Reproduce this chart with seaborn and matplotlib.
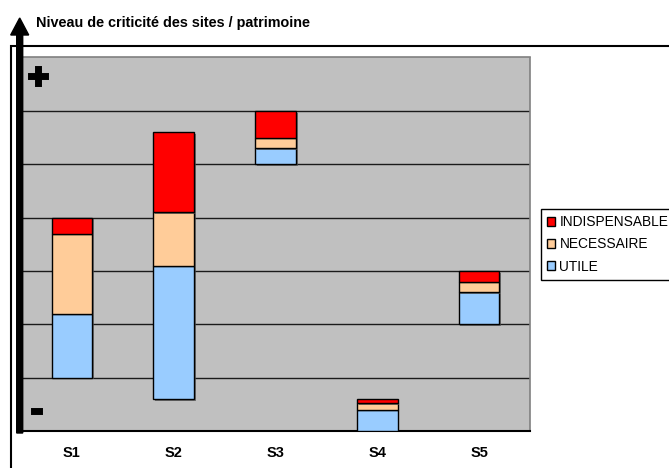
import matplotlib
matplotlib.use("Agg")
import matplotlib.pyplot as plt
import matplotlib.patheffects as pe
from matplotlib.patches import FancyArrow, Patch, Rectangle
import numpy as np
import seaborn as sns

# ---------------------------------------------------------------------------
# Data
# ---------------------------------------------------------------------------
sites = ["S1", "S2", "S3", "S4", "S5"]
base = [1.0, 0.6, 5.0, 0.0, 2.0]            # floating start of each column
utile = [1.2, 2.5, 0.3, 0.4, 0.6]
necessaire = [1.5, 1.0, 0.2, 0.12, 0.2]
indispensable = [0.3, 1.5, 0.5, 0.08, 0.2]

series_names = ["UTILE", "NECESSAIRE", "INDISPENSABLE"]
series_colors = ["#99CCFF", "#FFCC99", "#FF0000"]

title = "Niveau de criticité des sites / patrimoine"

# ---------------------------------------------------------------------------
sns.set_style("white")
plt.rcParams["font.family"] = ["Liberation Sans", "DejaVu Sans"]
plt.rcParams["text.color"] = "black"
plt.rcParams["xtick.color"] = "black"
plt.rcParams["xtick.labelcolor"] = "black"

W, H = 669, 468
fig = plt.figure(figsize=(W / 100, H / 100), dpi=100)
ax = fig.add_axes([21 / W, 1 - 431 / H, (530 - 21) / W, (431 - 57.5) / H])
ax.set_facecolor("#C0C0C0")

shadow = [pe.SimplePatchShadow(offset=(1.2, -1.2), shadow_rgbFace="#505050", alpha=0.7),
          pe.Normal()]

bottoms = np.array(base, dtype=float)
for name, vals, col in zip(series_names, [utile, necessaire, indispensable], series_colors):
    sns.barplot(x=sites, y=vals, bottom=bottoms.copy(), color=col, saturation=1,
                width=0.4, edgecolor="black", linewidth=1, ax=ax, zorder=3,
                path_effects=shadow)
    bottoms = bottoms + np.array(vals)

ax.set_ylim(0, 7)
ax.set_xlim(-0.5, 4.5)
ax.set_yticks(range(1, 7))
ax.set_yticklabels([])
ax.tick_params(axis="y", length=0)
ax.grid(axis="y", color="#1a1a1a", linewidth=1, zorder=1)
ax.set_axisbelow(True)
ax.set_xlabel("")
ax.set_ylabel("")

ax.set_xticks(range(len(sites)))
ax.set_xticklabels(sites, fontsize=10.5, fontweight="bold", color="black")
ax.tick_params(axis="x", which="major", length=0, pad=11)
ax.set_xticks(np.arange(-0.5, 5, 1), minor=True)
ax.tick_params(axis="x", which="minor", length=5, width=1, color="#606060", direction="out")

for side in ["top", "right"]:
    ax.spines[side].set_color("#808080")
    ax.spines[side].set_linewidth(1.2)
ax.spines["left"].set_visible(False)
ax.spines["bottom"].set_color("black")
ax.spines["bottom"].set_linewidth(1.5)

# outer chart border (cropped on the right and bottom)
fig.patches.append(Rectangle((0.11, -0.2), 7.0, 4.22 + 0.2, fill=False, edgecolor="black",
                             linewidth=1.5, transform=fig.dpi_scale_trans, figure=fig))

# vertical arrow
fig.patches.append(FancyArrow(0.197, (H - 433) / 100, 0, (433 - 18) / 100, width=0.06,
                              head_width=0.18, head_length=0.17, length_includes_head=True,
                              color="black", transform=fig.dpi_scale_trans, figure=fig,
                              zorder=5))

fig.text(36 / W, 1 - 27 / H, title, fontsize=10.4, fontweight="bold", va="baseline",
         ha="left", color="black")
thick = [pe.Stroke(linewidth=1.4, foreground="black", joinstyle="miter", capstyle="butt"),
         pe.Normal()]
fig.text(38.5 / W, 1 - 79 / H, "+", fontsize=27, fontweight="bold", ha="center",
         va="center", color="black", path_effects=thick)
fig.text(37 / W, 1 - 411 / H, "-", fontsize=27, fontweight="bold", ha="center",
         va="center", color="black", path_effects=thick)

handles = [Patch(facecolor=c, edgecolor="black", linewidth=1)
           for c in series_colors[::-1]]
fig.legend(handles, series_names[::-1], loc="upper left",
           bbox_to_anchor=(541 / W, 1 - 209 / H), fontsize=9.9, frameon=True,
           fancybox=False, edgecolor="black", framealpha=1, borderpad=0.44,
           labelspacing=0.6, handlelength=0.6, handleheight=0.6, handletextpad=0.3,
           borderaxespad=0, labelcolor="black")

fig.savefig("out.png", dpi=100)
